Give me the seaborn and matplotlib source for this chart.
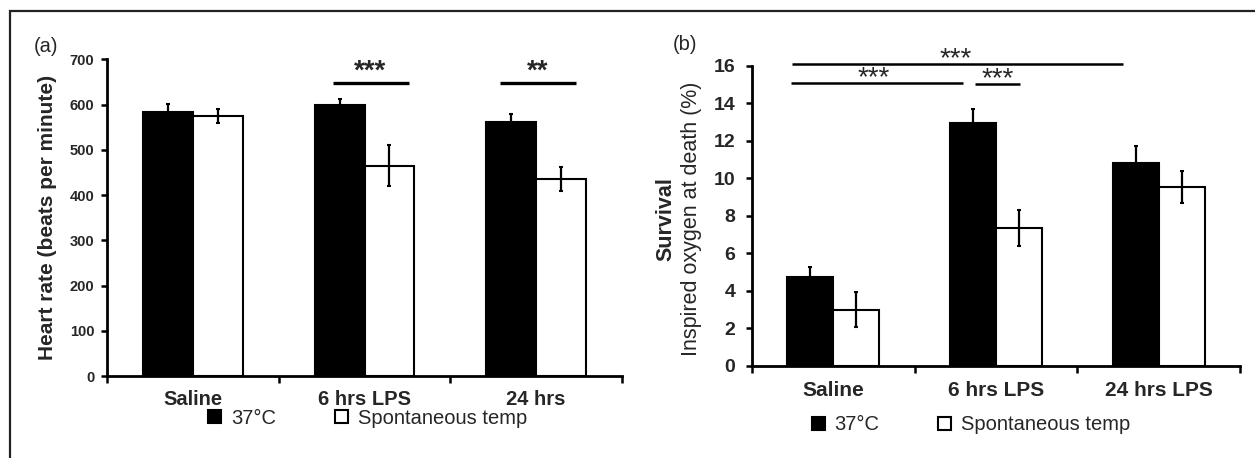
import matplotlib
matplotlib.use("Agg")
import matplotlib.pyplot as plt
import seaborn as sns
import pandas as pd
from matplotlib.patches import Rectangle

# ---------------- data ----------------
conditions = ["37°C", "Spontaneous temp"]

hr_groups = ["Saline", "6 hrs LPS", "24 hrs"]
hr_37 = [583, 600, 561]
hr_37_err = [18, 12, 19]
hr_spont = [575, 465, 436]
hr_spont_err = [15, 45, 27]
hr_yticks = [0, 100, 200, 300, 400, 500, 600, 700]

o2_groups = ["Saline", "6 hrs LPS", "24 hrs LPS"]
o2_37 = [4.75, 12.97, 10.8]
o2_37_err = [0.53, 0.75, 0.95]
o2_spont = [3.0, 7.33, 9.56]
o2_spont_err = [0.95, 0.96, 0.85]
o2_yticks = [0, 2, 4, 6, 8, 10, 12, 14, 16]

# significance annotations: (label, x_start, x_end, line_y, text_x, text_y)
hr_sig = [("***", 0.817, 1.259, 648, 1.03, 672),
          ("**", 1.788, 2.23, 648, 2.01, 672)]
o2_sig = [("***", -0.255, 1.78, 16.12, 0.754, 16.38),
          ("***", -0.26, 0.797, 15.11, 0.25, 15.36),
          ("***", 0.871, 1.148, 15.05, 1.012, 15.32)]

# ---------------- style ----------------
sns.set_style("ticks")
plt.rcParams["font.family"] = ["Liberation Sans", "DejaVu Sans"]

W, H = 1255, 458
fig = plt.figure(figsize=(W / 100, H / 100), dpi=100)


def make_df(groups, v37, e37, vsp, esp):
    return pd.DataFrame({
        "group": groups + groups,
        "condition": [conditions[0]] * len(groups) + [conditions[1]] * len(groups),
        "value": v37 + vsp,
        "err": e37 + esp,
    })


def draw_panel(ax, df, errs, width, tick_fs, cat_fs, cat_pad, ytick_pad):
    sns.barplot(data=df, x="group", y="value", hue="condition",
                palette=["black", "white"], edgecolor="black", linewidth=1.5,
                width=width, errorbar=None, saturation=1, ax=ax)
    for cont, err in zip(ax.containers, errs):
        xs = [p.get_x() + p.get_width() / 2 for p in cont]
        ys = [p.get_height() for p in cont]
        ax.errorbar(xs, ys, yerr=err, fmt="none", ecolor="black",
                    elinewidth=1.6, capsize=1.5, capthick=1.5, zorder=4)
    sns.despine(ax=ax)
    for s in ("left", "bottom"):
        ax.spines[s].set_linewidth(2)
        ax.spines[s].set_color("black")
    ax.set_xlim(-0.5, 2.5)
    ax.set_xticks([0, 1, 2])
    ax.set_xticks([-0.5, 0.5, 1.5, 2.5], minor=True)
    ax.tick_params(axis="x", which="major", length=0, pad=cat_pad,
                   labelsize=cat_fs)
    ax.tick_params(axis="x", which="minor", length=5, width=1.8,
                   direction="out", color="black")
    ax.tick_params(axis="y", length=4, width=1.8, direction="out",
                   color="black", labelsize=tick_fs, pad=ytick_pad)
    for lab in ax.get_xticklabels() + ax.get_yticklabels():
        lab.set_fontweight("bold")
    ax.set_xlabel("")
    handles = ax.get_legend().legend_handles
    labels = [t.get_text() for t in ax.get_legend().get_texts()]
    ax.get_legend().remove()
    return handles, labels


# ---------------- panel (a) ----------------
ax1 = fig.add_axes([107 / W, 1 - 376 / H, 515 / W, (376 - 59.3) / H])
df1 = make_df(hr_groups, hr_37, hr_37_err, hr_spont, hr_spont_err)
h1, l1 = draw_panel(ax1, df1, [hr_37_err, hr_spont_err], 0.58,
                    10.5, 14.5, 10, 5)
ax1.set_ylim(0, 700)
ax1.set_yticks(hr_yticks)
for lab in ax1.get_yticklabels():
    lab.set_fontweight("bold")
ax1.set_ylabel("Heart rate (beats per minute)", fontsize=15,
               fontweight="bold", va="center")
ax1.yaxis.set_label_coords((48 - 107) / 515, 0.5)
for txt, x0, x1, y, tx, ty in hr_sig:
    ax1.plot([x0, x1], [y, y], color="black", lw=2.4, solid_capstyle="butt")
    ax1.text(tx, ty, txt, ha="center", va="center", fontsize=20,
             fontweight="bold")
fig.legend(h1, l1, loc="center", bbox_to_anchor=(367.5 / W, 1 - 418 / H),
           ncol=2, frameon=False, fontsize=14.5, handlelength=0.65,
           handleheight=0.65, handletextpad=0.5, columnspacing=2.9,
           borderpad=0, borderaxespad=0)
fig.text(46 / W, 1 - 46 / H, "(a)", fontsize=14.5, ha="center", va="center")

# ---------------- panel (b) ----------------
ax2 = fig.add_axes([752 / W, 1 - 365.7 / H, 488 / W, 299.7 / H])
df2 = make_df(o2_groups, o2_37, o2_37_err, o2_spont, o2_spont_err)
h2, l2 = draw_panel(ax2, df2, [o2_37_err, o2_spont_err], 0.565,
                    14, 15, 11, 8)
ax2.set_ylim(0, 16)
ax2.set_yticks(o2_yticks)
for lab in ax2.get_yticklabels():
    lab.set_fontweight("bold")
ax2.set_ylabel("Inspired oxygen at death (%)", fontsize=15.5, va="center")
ax2.yaxis.set_label_coords((692 - 752) / 488, 0.49)
ax2.text((666 - 752) / 488, 0.49, "Survival", transform=ax2.transAxes,
         rotation=90, ha="center", va="center", fontsize=15.5,
         fontweight="bold")
for txt, x0, x1, y, tx, ty in o2_sig:
    ax2.plot([x0, x1], [y, y], color="black", lw=1.8, solid_capstyle="butt",
             clip_on=False)
    ax2.text(tx, ty, txt, ha="center", va="center", fontsize=20,
             clip_on=False)
fig.legend(h2, l2, loc="center", bbox_to_anchor=(971 / W, 1 - 425 / H),
           ncol=2, frameon=False, fontsize=14.5, handlelength=0.65,
           handleheight=0.65, handletextpad=0.5, columnspacing=2.9,
           borderpad=0, borderaxespad=0)
fig.text(685 / W, 1 - 45 / H, "(b)", fontsize=14.5, ha="center", va="center")

# ---------------- outer frame ----------------
fig.patches.append(Rectangle((10 / W, -0.05), 1.2, 1 - 11 / H + 0.05,
                             transform=fig.transFigure, fill=False,
                             edgecolor="#222222", linewidth=1.6))

fig.savefig("out.png", dpi=100)
